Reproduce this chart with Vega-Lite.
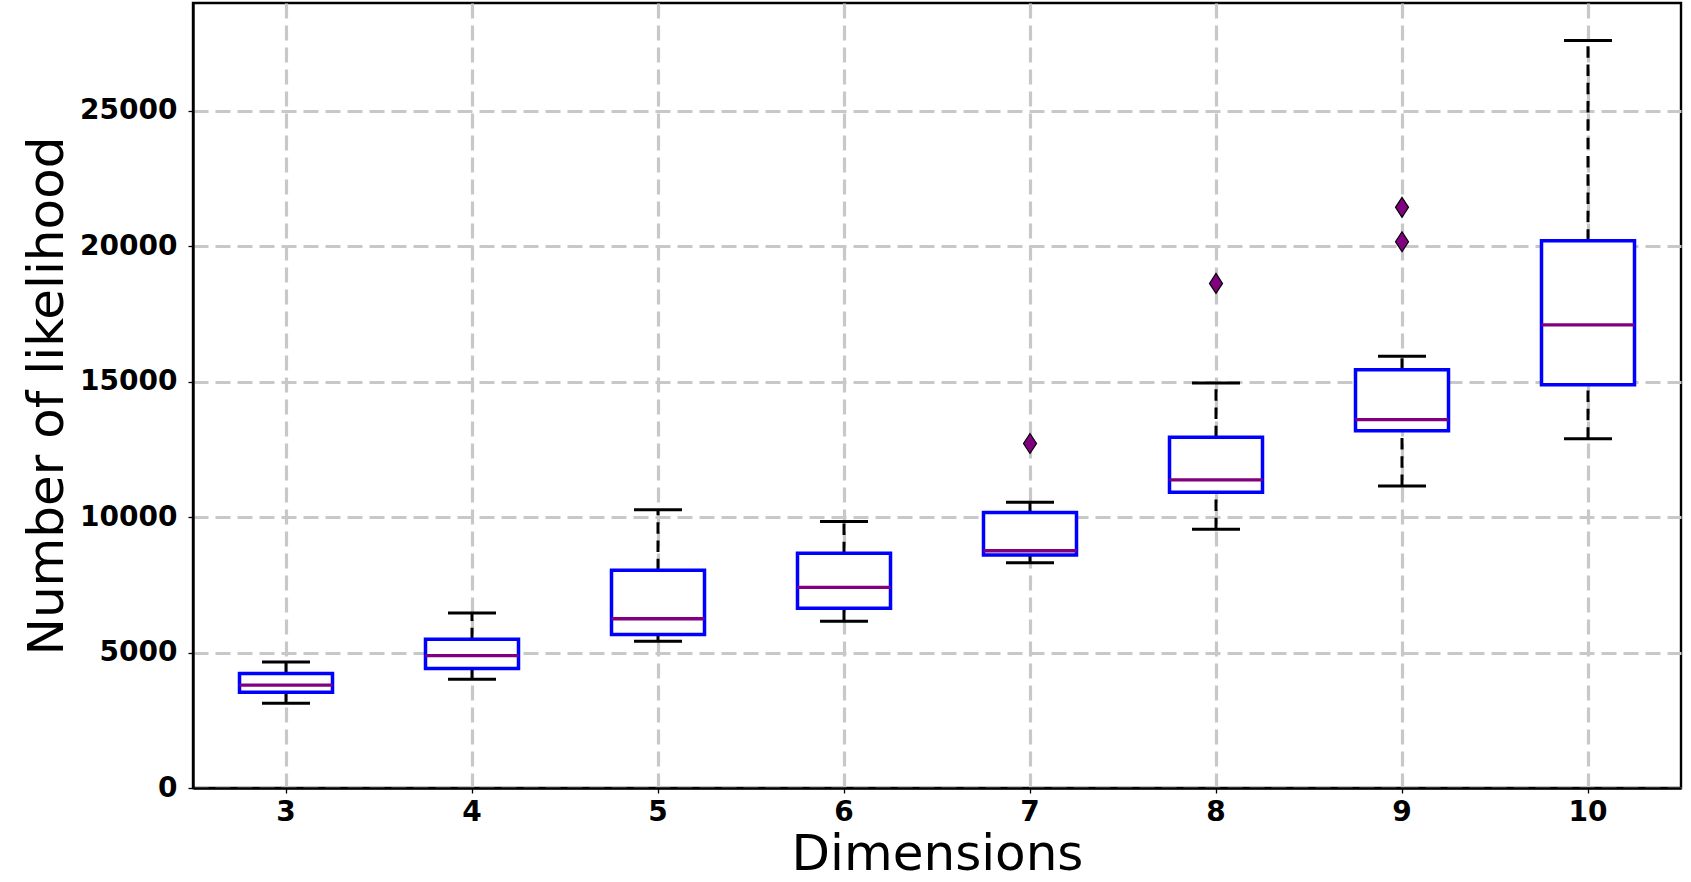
{
  "$schema": "https://vega.github.io/schema/vega-lite/v6.json",
  "width": 1488,
  "height": 785,
  "autosize": {"type": "none"},
  "padding": {"left": 193, "top": 3, "right": 10, "bottom": 94},
  "datasets": {
    "boxes": [
      {"dim": 3, "lower": 3130, "q1": 3540, "median": 3800, "q3": 4230, "upper": 4650},
      {"dim": 4, "lower": 4020, "q1": 4410, "median": 4890, "q3": 5490, "upper": 6460},
      {"dim": 5, "lower": 5420, "q1": 5670, "median": 6250, "q3": 8040, "upper": 10270},
      {"dim": 6, "lower": 6160, "q1": 6640, "median": 7410, "q3": 8670, "upper": 9840},
      {"dim": 7, "lower": 8320, "q1": 8600, "median": 8760, "q3": 10170, "upper": 10550},
      {"dim": 8, "lower": 9550, "q1": 10920, "median": 11380, "q3": 12950, "upper": 14950},
      {"dim": 9, "lower": 11150, "q1": 13190, "median": 13600, "q3": 15440, "upper": 15940},
      {"dim": 10, "lower": 12900, "q1": 14890, "median": 17100, "q3": 20210, "upper": 27600}
    ],
    "outliers": [
      {"dim": 7, "value": 12720},
      {"dim": 8, "value": 18630},
      {"dim": 9, "value": 20170},
      {"dim": 9, "value": 21440}
    ]
  },
  "encoding": {
    "x": {
      "field": "dim",
      "type": "ordinal",
      "title": "Dimensions",
      "scale": {"type": "band", "paddingInner": 0, "paddingOuter": 0},
      "axis": {"labelAngle": 0, "bandPosition": 0.5, "labelPadding": 5}
    }
  },
  "layer": [
    {
      "data": {"name": "boxes"},
      "mark": {"type": "rule", "color": "black", "strokeWidth": 3, "strokeDash": [11.5, 6.8]},
      "encoding": {
        "y": {
          "field": "lower",
          "type": "quantitative",
          "title": "Number of likelihood",
          "scale": {"domain": [0, 28985], "nice": false},
          "axis": {"values": [0, 5000, 10000, 15000, 20000, 25000], "format": "d", "labelPadding": 11}
        },
        "y2": {"field": "q1"}
      }
    },
    {
      "data": {"name": "boxes"},
      "mark": {"type": "rule", "color": "black", "strokeWidth": 3, "strokeDash": [11.5, 6.8]},
      "encoding": {
        "y": {"field": "q3", "type": "quantitative"},
        "y2": {"field": "upper"}
      }
    },
    {
      "data": {"name": "boxes"},
      "mark": {"type": "bar", "fill": "white", "stroke": "#0000ff", "strokeWidth": 3.5, "width": {"band": 0.5}},
      "encoding": {
        "y": {"field": "q1", "type": "quantitative"},
        "y2": {"field": "q3"}
      }
    },
    {
      "data": {"name": "boxes"},
      "mark": {"type": "tick", "color": "#800080", "size": 93, "thickness": 3.3, "opacity": 1},
      "encoding": {
        "y": {"field": "median", "type": "quantitative"}
      }
    },
    {
      "data": {"name": "boxes"},
      "mark": {"type": "tick", "color": "black", "size": 48, "thickness": 3, "opacity": 1},
      "encoding": {
        "y": {"field": "lower", "type": "quantitative"}
      }
    },
    {
      "data": {"name": "boxes"},
      "mark": {"type": "tick", "color": "black", "size": 48, "thickness": 3, "opacity": 1},
      "encoding": {
        "y": {"field": "upper", "type": "quantitative"}
      }
    },
    {
      "data": {"name": "outliers"},
      "mark": {
        "type": "point",
        "shape": "M0,-1L0.65,0L0,1L-0.65,0Z",
        "size": 400,
        "filled": true,
        "fill": "#800080",
        "stroke": "black",
        "strokeWidth": 1.2,
        "opacity": 1
      },
      "encoding": {
        "y": {"field": "value", "type": "quantitative"}
      }
    }
  ],
  "config": {
    "font": "DejaVu Sans",
    "view": {"stroke": "black", "strokeWidth": 2.4},
    "axis": {
      "domain": true,
      "domainColor": "black",
      "domainWidth": 2.4,
      "grid": true,
      "gridColor": "#c8c8c8",
      "gridWidth": 3.2,
      "gridDash": [15, 7],
      "gridOpacity": 1,
      "tickColor": "black",
      "tickSize": 5,
      "tickWidth": 1.3,
      "labelColor": "black",
      "labelFont": "DejaVu Sans",
      "labelFontSize": 28,
      "labelFontWeight": "bold",
      "titleColor": "black",
      "titleFont": "DejaVu Sans",
      "titleFontSize": 50,
      "titleFontWeight": "normal"
    },
    "axisX": {"titlePadding": 3},
    "axisY": {"titlePadding": 7}
  }
}
